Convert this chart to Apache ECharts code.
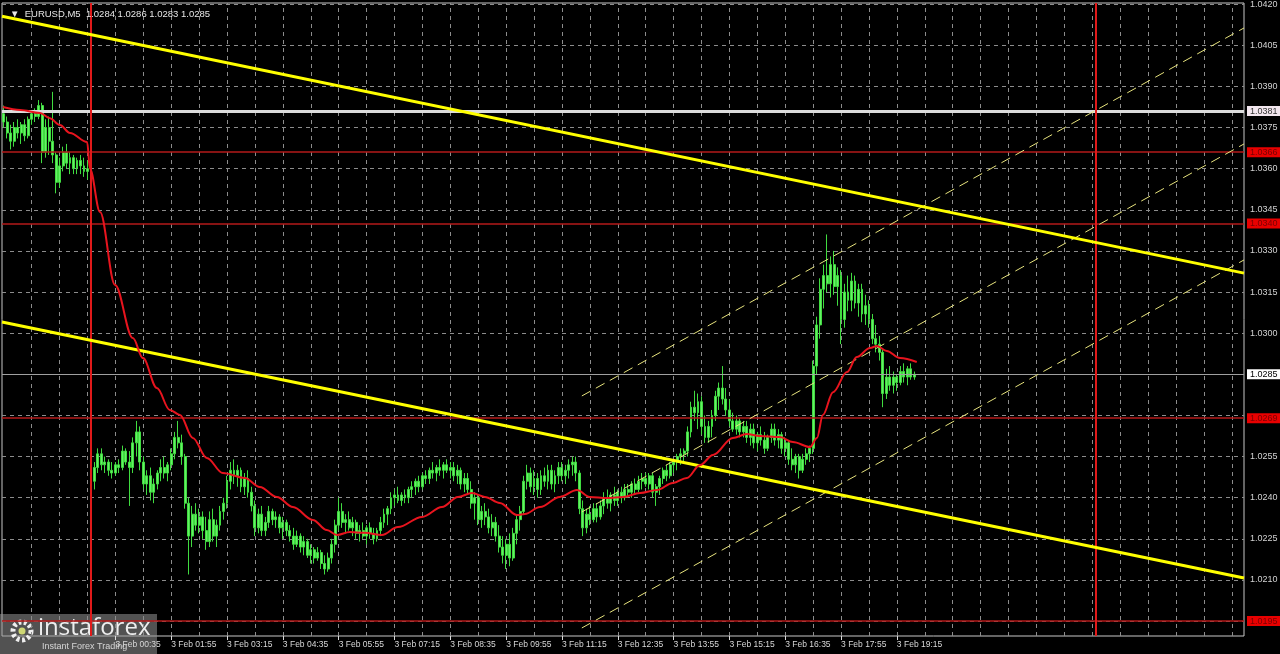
<!DOCTYPE html>
<html><head><meta charset="utf-8">
<script src="https://cdn.jsdelivr.net/npm/echarts@6/dist/echarts.min.js"></script>
<style>html,body{margin:0;padding:0;background:#000;}#c{width:1280px;height:654px;}</style>
</head><body><div id="c"></div>
<script>
// ---- bar index 0 = 3 Feb 00:00 (M5 bars) ----
const firstBar = -25;
const lastSlot = 330;

const opens = [
1.0380,1.0377,1.0373,1.0370,1.0375,1.0373,1.0376,1.0372,1.0378,1.0380,
1.0379,1.0383,1.0366,1.0375,1.0370,1.0365,1.0355,1.0361,1.0366,1.0362,
1.0364,1.0360,1.0363,1.0361,1.0359,
1.0237,1.0246,1.0251,1.0256,1.0252,1.0253,1.0250,1.0249,1.0252,1.0251,
1.0257,1.0253,1.0251,1.0260,1.0264,1.0253,1.0245,1.0248,1.0242,1.0245,
1.0249,1.0251,1.0249,1.0252,1.0256,1.0262,1.0260,1.0255,1.0238,1.0226,
1.0234,1.0230,1.0233,1.0228,1.0224,1.0232,1.0226,1.0230,1.0235,1.0238,
1.0246,1.0250,1.0248,1.0250,1.0244,1.0247,1.0242,1.0237,1.0229,1.0234,
1.0228,1.0231,1.0235,1.0232,1.0233,1.0229,1.0231,1.0228,1.0226,1.0223,
1.0226,1.0222,1.0224,1.0219,1.0221,1.0218,1.0220,1.0216,1.0214,1.0218,
1.0223,1.0230,1.0235,1.0231,1.0232,1.0229,1.0231,1.0227,1.0228,1.0226,
1.0229,1.0227,1.0225,1.0228,1.0231,1.0234,1.0236,1.0240,1.0241,1.0239,
1.0241,1.0240,1.0243,1.0244,1.0246,1.0244,1.0248,1.0247,1.0250,1.0249,
1.0251,1.0250,1.0252,1.0250,1.0251,1.0248,1.0250,1.0245,1.0247,1.0243,
1.0238,1.0240,1.0232,1.0235,1.0233,1.0229,1.0231,1.0226,1.0222,1.0219,
1.0223,1.0218,1.0227,1.0232,1.0235,1.0246,1.0249,1.0244,1.0247,1.0243,
1.0248,1.0246,1.0250,1.0245,1.0248,1.0251,1.0248,1.0250,1.0252,1.0253,
1.0249,1.0236,1.0229,1.0234,1.0232,1.0236,1.0233,1.0237,1.0240,1.0238,
1.0241,1.0239,1.0242,1.0240,1.0243,1.0242,1.0245,1.0243,1.0246,1.0247,
1.0245,1.0248,1.0242,1.0244,1.0247,1.0250,1.0248,1.0252,1.0253,1.0255,
1.0256,1.0257,1.0264,1.0273,1.0271,1.0275,1.0266,1.0262,1.0266,1.0270,
1.0277,1.0280,1.0276,1.0272,1.0268,1.0265,1.0268,1.0264,1.0266,1.0262,
1.0265,1.0260,1.0263,1.0261,1.0258,1.0262,1.0265,1.0261,1.0263,1.0258,
1.0260,1.0254,1.0252,1.0255,1.0250,1.0254,1.0256,1.0258,1.0288,1.0303,
1.0316,1.0321,1.0318,1.0325,1.0317,1.0321,1.0305,1.0315,1.0312,1.0319,
1.0311,1.0316,1.0307,1.0310,1.0305,1.0298,1.0296,1.0293,1.0278,1.0284,
1.0281,1.0284,1.0282,1.0286,1.0284,1.0287,1.0284
];
const highs = [
1.0383,1.0379,1.0376,1.0377,1.0378,1.0377,1.0378,1.0379,1.0381,1.0382,
1.0385,1.0384,1.0378,1.0379,1.0388,1.0366,1.0364,1.0368,1.0369,1.0366,
1.0365,1.0364,1.0365,1.0364,1.0363,
1.0249,1.0253,1.0258,1.0258,1.0255,1.0254,1.0253,1.0253,1.0254,1.0259,
1.0258,1.0257,1.0262,1.0268,1.0266,1.0255,1.0250,1.0251,1.0247,1.0250,
1.0254,1.0255,1.0253,1.0258,1.0264,1.0268,1.0263,1.0256,1.0240,1.0237,
1.0238,1.0236,1.0235,1.0233,1.0235,1.0236,1.0232,1.0237,1.0240,1.0248,
1.0253,1.0254,1.0252,1.0251,1.0249,1.0250,1.0244,1.0239,1.0236,1.0237,
1.0233,1.0237,1.0236,1.0235,1.0234,1.0233,1.0232,1.0230,1.0229,1.0228,
1.0227,1.0226,1.0225,1.0223,1.0222,1.0222,1.0221,1.0219,1.0220,1.0225,
1.0232,1.0240,1.0238,1.0234,1.0235,1.0233,1.0232,1.0230,1.0231,1.0230,
1.0231,1.0229,1.0229,1.0233,1.0236,1.0237,1.0242,1.0243,1.0244,1.0242,
1.0243,1.0244,1.0246,1.0247,1.0248,1.0249,1.0250,1.0251,1.0253,1.0252,
1.0254,1.0253,1.0254,1.0253,1.0253,1.0252,1.0251,1.0249,1.0249,1.0246,
1.0242,1.0241,1.0237,1.0238,1.0236,1.0234,1.0233,1.0230,1.0226,1.0225,
1.0227,1.0229,1.0234,1.0237,1.0248,1.0252,1.0251,1.0250,1.0249,1.0250,
1.0251,1.0252,1.0252,1.0250,1.0253,1.0253,1.0252,1.0254,1.0255,1.0255,
1.0250,1.0239,1.0236,1.0237,1.0238,1.0238,1.0239,1.0242,1.0243,1.0242,
1.0244,1.0243,1.0244,1.0245,1.0245,1.0246,1.0247,1.0248,1.0249,1.0249,
1.0249,1.0249,1.0245,1.0248,1.0251,1.0252,1.0253,1.0254,1.0256,1.0258,
1.0258,1.0266,1.0275,1.0279,1.0278,1.0277,1.0270,1.0268,1.0272,1.0279,
1.0282,1.0288,1.0280,1.0276,1.0271,1.0270,1.0269,1.0268,1.0268,1.0267,
1.0267,1.0264,1.0266,1.0264,1.0263,1.0267,1.0267,1.0265,1.0264,1.0262,
1.0261,1.0258,1.0256,1.0256,1.0256,1.0258,1.0259,1.0290,1.0306,1.0320,
1.0325,1.0336,1.0328,1.0330,1.0324,1.0323,1.0318,1.0321,1.0322,1.0321,
1.0318,1.0318,1.0314,1.0312,1.0307,1.0303,1.0299,1.0294,1.0287,1.0288,
1.0286,1.0285,1.0288,1.0289,1.0288,1.0289,1.0286
];
const lows = [
1.0375,1.0371,1.0367,1.0368,1.0371,1.0369,1.0370,1.0371,1.0376,1.0377,
1.0378,1.0362,1.0364,1.0365,1.0362,1.0351,1.0353,1.0359,1.0360,1.0358,
1.0358,1.0358,1.0358,1.0357,1.0356,
1.0234,1.0243,1.0249,1.0250,1.0249,1.0248,1.0247,1.0248,1.0249,1.0250,
1.0252,1.0237,1.0249,1.0255,1.0250,1.0243,1.0241,1.0239,1.0238,1.0243,
1.0246,1.0247,1.0246,1.0250,1.0254,1.0258,1.0252,1.0236,1.0212,1.0222,
1.0228,1.0227,1.0225,1.0221,1.0222,1.0224,1.0222,1.0228,1.0232,1.0236,
1.0243,1.0245,1.0244,1.0242,1.0241,1.0240,1.0235,1.0226,1.0227,1.0226,
1.0226,1.0229,1.0230,1.0229,1.0227,1.0225,1.0226,1.0224,1.0221,1.0222,
1.0220,1.0219,1.0218,1.0216,1.0216,1.0217,1.0214,1.0212,1.0213,1.0216,
1.0220,1.0228,1.0229,1.0227,1.0228,1.0226,1.0225,1.0224,1.0225,1.0223,
1.0225,1.0223,1.0224,1.0226,1.0229,1.0230,1.0234,1.0237,1.0238,1.0237,
1.0238,1.0238,1.0240,1.0241,1.0242,1.0243,1.0245,1.0245,1.0247,1.0246,
1.0248,1.0247,1.0249,1.0247,1.0246,1.0245,1.0243,1.0242,1.0241,1.0236,
1.0232,1.0230,1.0229,1.0230,1.0227,1.0226,1.0224,1.0220,1.0216,1.0214,
1.0215,1.0217,1.0223,1.0228,1.0234,1.0243,1.0242,1.0241,1.0240,1.0241,
1.0244,1.0243,1.0243,1.0242,1.0245,1.0246,1.0245,1.0247,1.0248,1.0246,
1.0234,1.0226,1.0227,1.0230,1.0231,1.0231,1.0232,1.0234,1.0236,1.0235,
1.0237,1.0237,1.0238,1.0239,1.0240,1.0240,1.0241,1.0242,1.0243,1.0244,
1.0243,1.0240,1.0237,1.0241,1.0245,1.0246,1.0247,1.0249,1.0250,1.0252,
1.0253,1.0255,1.0262,1.0268,1.0265,1.0263,1.0260,1.0260,1.0262,1.0268,
1.0272,1.0274,1.0270,1.0266,1.0264,1.0263,1.0262,1.0262,1.0260,1.0259,
1.0258,1.0257,1.0259,1.0256,1.0257,1.0260,1.0259,1.0258,1.0256,1.0255,
1.0252,1.0250,1.0249,1.0247,1.0249,1.0252,1.0253,1.0256,1.0285,1.0298,
1.0309,1.0315,1.0313,1.0314,1.0310,1.0296,1.0302,1.0308,1.0308,1.0309,
1.0306,1.0304,1.0303,1.0302,1.0296,1.0293,1.0290,1.0273,1.0276,1.0279,
1.0278,1.0279,1.0281,1.0282,1.0281,1.0283,1.0283
];
const closes = [
1.0377,1.0373,1.0370,1.0375,1.0373,1.0376,1.0372,1.0378,1.0380,1.0379,
1.0383,1.0366,1.0375,1.0370,1.0365,1.0355,1.0361,1.0366,1.0362,1.0364,
1.0360,1.0363,1.0361,1.0359,1.0360,
1.0246,1.0251,1.0256,1.0252,1.0253,1.0250,1.0249,1.0252,1.0251,1.0257,
1.0253,1.0251,1.0260,1.0264,1.0253,1.0245,1.0248,1.0242,1.0245,1.0249,
1.0251,1.0249,1.0252,1.0256,1.0262,1.0260,1.0255,1.0238,1.0226,1.0234,
1.0230,1.0233,1.0228,1.0224,1.0232,1.0226,1.0230,1.0235,1.0238,1.0246,
1.0250,1.0248,1.0250,1.0244,1.0247,1.0242,1.0237,1.0229,1.0234,1.0228,
1.0231,1.0235,1.0232,1.0233,1.0229,1.0231,1.0228,1.0226,1.0223,1.0226,
1.0222,1.0224,1.0219,1.0221,1.0218,1.0220,1.0216,1.0214,1.0218,1.0223,
1.0230,1.0235,1.0231,1.0232,1.0229,1.0231,1.0227,1.0228,1.0226,1.0229,
1.0227,1.0225,1.0228,1.0231,1.0234,1.0236,1.0240,1.0241,1.0239,1.0241,
1.0240,1.0243,1.0244,1.0246,1.0244,1.0248,1.0247,1.0250,1.0249,1.0251,
1.0250,1.0252,1.0250,1.0251,1.0248,1.0250,1.0245,1.0247,1.0243,1.0238,
1.0240,1.0232,1.0235,1.0233,1.0229,1.0231,1.0226,1.0222,1.0219,1.0223,
1.0218,1.0227,1.0232,1.0235,1.0246,1.0249,1.0244,1.0247,1.0243,1.0248,
1.0246,1.0250,1.0245,1.0248,1.0251,1.0248,1.0250,1.0252,1.0253,1.0249,
1.0236,1.0229,1.0234,1.0232,1.0236,1.0233,1.0237,1.0240,1.0238,1.0241,
1.0239,1.0242,1.0240,1.0243,1.0242,1.0245,1.0243,1.0246,1.0247,1.0245,
1.0248,1.0242,1.0244,1.0247,1.0250,1.0248,1.0252,1.0253,1.0255,1.0256,
1.0257,1.0264,1.0273,1.0271,1.0275,1.0266,1.0262,1.0266,1.0270,1.0277,
1.0280,1.0276,1.0272,1.0268,1.0265,1.0268,1.0264,1.0266,1.0262,1.0265,
1.0260,1.0263,1.0261,1.0258,1.0262,1.0265,1.0261,1.0263,1.0258,1.0260,
1.0254,1.0252,1.0255,1.0250,1.0254,1.0256,1.0258,1.0288,1.0303,1.0316,
1.0321,1.0318,1.0325,1.0317,1.0321,1.0305,1.0315,1.0312,1.0319,1.0311,
1.0316,1.0307,1.0310,1.0305,1.0298,1.0296,1.0293,1.0278,1.0284,1.0281,
1.0284,1.0282,1.0286,1.0284,1.0287,1.0284,1.0285
];

// moving average (red), read at bar positions
const maIdx = [-25.2,-20.3,-14.6,-11.8,-8.9,-6.0,-1.1,-0.3,2.6,6.9,12.0,14.9,18.9,22.6,25.5,29.2,33.2,37.8,44.1,48.4,
53.3,57.9,63.6,67.6,70.5,74.2,78.5,83.4,88.0,94.9,100.6,105.2,109.2,112.9,117.2,122.1,124.4,128.7,134.4,139.3,
143.0,147.9,152.5,157.4,162.2,166.8,170.8,174.6,178.3,184.0,188.0,191.7,197.5,201.2,206.1,208.1,209.8,212.7,216.7,219.5,
223.3,225.3,228.1,231.9,236.7];
const maVal = [1.03825,1.03814,1.03803,1.03784,1.03759,1.03730,1.03697,1.03600,1.03442,1.03176,1.02982,1.02909,1.02800,1.02720,1.02702,1.02618,1.02545,1.02490,1.02472,1.02439,
1.02403,1.02366,1.02319,1.02282,1.02264,1.02275,1.02272,1.02264,1.02293,1.02330,1.02366,1.02403,1.02417,1.02403,1.02381,1.02337,1.02341,1.02366,1.02403,1.02428,
1.02403,1.02399,1.02403,1.02417,1.02428,1.02454,1.02472,1.02519,1.02556,1.02618,1.02632,1.02625,1.02621,1.02603,1.02585,1.02618,1.02702,1.02785,1.02858,1.02913,
1.02946,1.02953,1.02935,1.02909,1.02895];

// drawn objects (bar index, price)
const upperTrendX = [-25.5, 330.5], upperTrendY = [1.04156, 1.03219];
const lowerTrendX = [-25.5, 330.5], lowerTrendY = [1.03041, 1.02107];
const chanX = [140.7, 330.5];
const chanTopY = [1.02771, 1.04113];
const chanMidY = [1.02348, 1.03690];
const chanLowY = [1.01925, 1.03267];
const redLevels = [1.0366, 1.0340, 1.0269, 1.0195];
const whiteLevel = 1.0381;
const lastPrice = 1.0285;
const dayLines = [0, 288];

// axis ticks
const priceGrid = [1.0420,1.0405,1.0390,1.0375,1.0360,1.0345,1.0330,1.0315,1.0300,1.0285,1.0270,1.0255,1.0240,1.0225,1.0210,1.0195];
const priceLabels = ['1.0420','1.0405','1.0390','1.0375','1.0360','1.0345','1.0330','1.0315','1.0300','1.0255','1.0240','1.0225','1.0210'];
const timeLabels = ['3 Feb 00:35','3 Feb 01:55','3 Feb 03:15','3 Feb 04:35','3 Feb 05:55','3 Feb 07:15','3 Feb 08:35','3 Feb 09:55','3 Feb 11:15','3 Feb 12:35','3 Feb 13:55','3 Feb 15:15','3 Feb 16:35','3 Feb 17:55','3 Feb 19:15'];

const pad = n => (n < 10 ? '0' : '') + n;
const categories = [];
for (let i = firstBar; i <= lastSlot; i++) {
  const m = ((i * 5) % 1440 + 1440) % 1440;
  const day = i < 0 ? '31 Jan' : (i < 288 ? '3 Feb' : '4 Feb');
  categories.push(day + ' ' + pad(Math.floor(m / 60)) + ':' + pad(m % 60));
}
const candleData = opens.map((o, k) => [o, closes[k], lows[k], highs[k]]);
const maData = maIdx.map((x, k) => [x, maVal[k]]);
const showTime = (idx, val) => timeLabels.indexOf(val) >= 0;

const FONT = 'Liberation Sans';
const gridMarks = priceGrid.map(v => ({
  yAxis: v,
  label: { show: priceLabels.indexOf(v.toFixed(4)) >= 0, formatter: v.toFixed(4) }
}));
for (let i = -17; i <= lastSlot; i += 8) gridMarks.push({ xAxis: i, label: { show: false } });

const boxLabel = (txt, bg, fg) => ({
  show: true, position: 'end', distance: 3, formatter: txt, backgroundColor: bg, color: fg,
  padding: [1, 3, 0, 3], fontSize: 9, fontFamily: FONT
});
const levelMarks = [];
redLevels.forEach(v => levelMarks.push({
  yAxis: v, lineStyle: { color: '#b51a1a', width: 1.5, type: 'solid' },
  label: boxLabel(v.toFixed(4), '#e80000', '#7a0000')
}));
levelMarks.push({ yAxis: whiteLevel, lineStyle: { color: '#dcdcdc', width: 3, type: 'solid' },
  label: boxLabel(whiteLevel.toFixed(4), '#f2e6ee', '#333333') });
levelMarks.push({ yAxis: lastPrice, lineStyle: { color: '#a0a0a0', width: 1, type: 'solid' },
  label: boxLabel(lastPrice.toFixed(4), '#ffffff', '#000000') });
dayLines.forEach(x => levelMarks.push({ xAxis: x, lineStyle: { color: '#e01a1a', width: 2, type: 'solid' }, label: { show: false } }));

const seg = (xs, ys) => xs.map((x, k) => [x, ys[k]]);
const lineSeries = (name, data, style, z) => ({
  name, type: 'line', xAxisIndex: 1, yAxisIndex: 0, data, symbol: 'none', silent: true,
  lineStyle: style, z, animation: false
});

const chart = echarts.init(document.getElementById('c'), null, { renderer: 'canvas' });
chart.setOption({
  backgroundColor: '#000',
  animation: false,
  title: {
    text: '\u25BC  EURUSD,M5  1.0284 1.0286 1.0283 1.0285', left: 5, top: 4,
    textStyle: { color: '#e6e6e6', fontSize: 9.5, fontWeight: 'normal', fontFamily: FONT }
  },
  grid: { left: 2, right: 36, top: 3, bottom: 18, show: true, borderColor: '#c8c8c8', borderWidth: 1, backgroundColor: '#000' },
  xAxis: [
    { type: 'category', data: categories, boundaryGap: true,
      axisLine: { show: false },
      axisTick: { show: true, alignWithLabel: true, interval: showTime, length: 4, lineStyle: { color: '#dddddd' } },
      axisLabel: { interval: showTime, align: 'left', color: '#d8d8d8', fontSize: 8.5, margin: 4, fontFamily: FONT },
      splitLine: { show: false } },
    { type: 'value', min: -25.5, max: 330.5, show: false, splitLine: { show: false } }
  ],
  yAxis: { type: 'value', min: 1.018957, max: 1.04204, show: false, splitLine: { show: false } },
  series: [
    { name: 'grid', type: 'line', xAxisIndex: 1, data: [], silent: true,
      markLine: { z: 1, precision: 5, silent: true, animation: false, symbol: ['none', 'none'],
        lineStyle: { color: '#8c8c8c', width: 1, type: [4, 4] },
        label: { position: 'end', distance: 6, color: '#d2d2d2', fontSize: 9, fontFamily: FONT },
        data: gridMarks } },
    { name: 'EURUSD', type: 'candlestick', xAxisIndex: 0, yAxisIndex: 0, data: candleData, barWidth: 2.4, z: 3,
      silent: true,
      itemStyle: { color: '#66f066', color0: '#66f066', borderColor: '#40dc40', borderColor0: '#40dc40', borderWidth: 1 } },
    { name: 'levels', type: 'line', xAxisIndex: 1, data: [], silent: true,
      markLine: { z: 4, precision: 5, silent: true, animation: false, symbol: ['none', 'none'], data: levelMarks } },
    lineSeries('chanTop', seg(chanX, chanTopY), { color: '#e8e47e', width: 1, type: [10, 6] }, 5),
    lineSeries('chanMid', seg(chanX, chanMidY), { color: '#e8e47e', width: 1, type: [10, 6] }, 5),
    lineSeries('chanLow', seg(chanX, chanLowY), { color: '#e8e47e', width: 1, type: [10, 6] }, 5),
    lineSeries('upperTrend', seg(upperTrendX, upperTrendY), { color: '#ffff00', width: 3 }, 6),
    lineSeries('lowerTrend', seg(lowerTrendX, lowerTrendY), { color: '#ffff00', width: 3 }, 6),
    Object.assign(lineSeries('MA', maData, { color: '#e8141e', width: 2 }, 7), { smooth: 0.35, smoothMonotone: 'x' })
  ],
  graphic: [
    { type: 'group', left: 0, top: 614, z: 100, children: [
      { type: 'rect', shape: { x: 0, y: 0, width: 157, height: 40 }, style: { fill: 'rgba(150,150,150,0.55)' } },
      { type: 'circle', shape: { cx: 22, cy: 17, r: 9 }, style: { fill: 'none', stroke: 'rgba(255,255,255,0.9)', lineWidth: 5, lineDash: [3, 2.5] } },
      { type: 'circle', shape: { cx: 22, cy: 17, r: 3.5 }, style: { fill: 'rgba(220,230,120,0.9)' } },
      { type: 'text', x: 38, y: 2, style: { text: 'instaforex', fill: 'rgba(255,255,255,0.9)', font: '24px "Open Sans"' } },
      { type: 'text', x: 42, y: 28, style: { text: 'Instant Forex Trading', fill: 'rgba(255,255,255,0.75)', font: '9px "Liberation Sans"' } }
    ] }
  ]
});
</script></body></html>
